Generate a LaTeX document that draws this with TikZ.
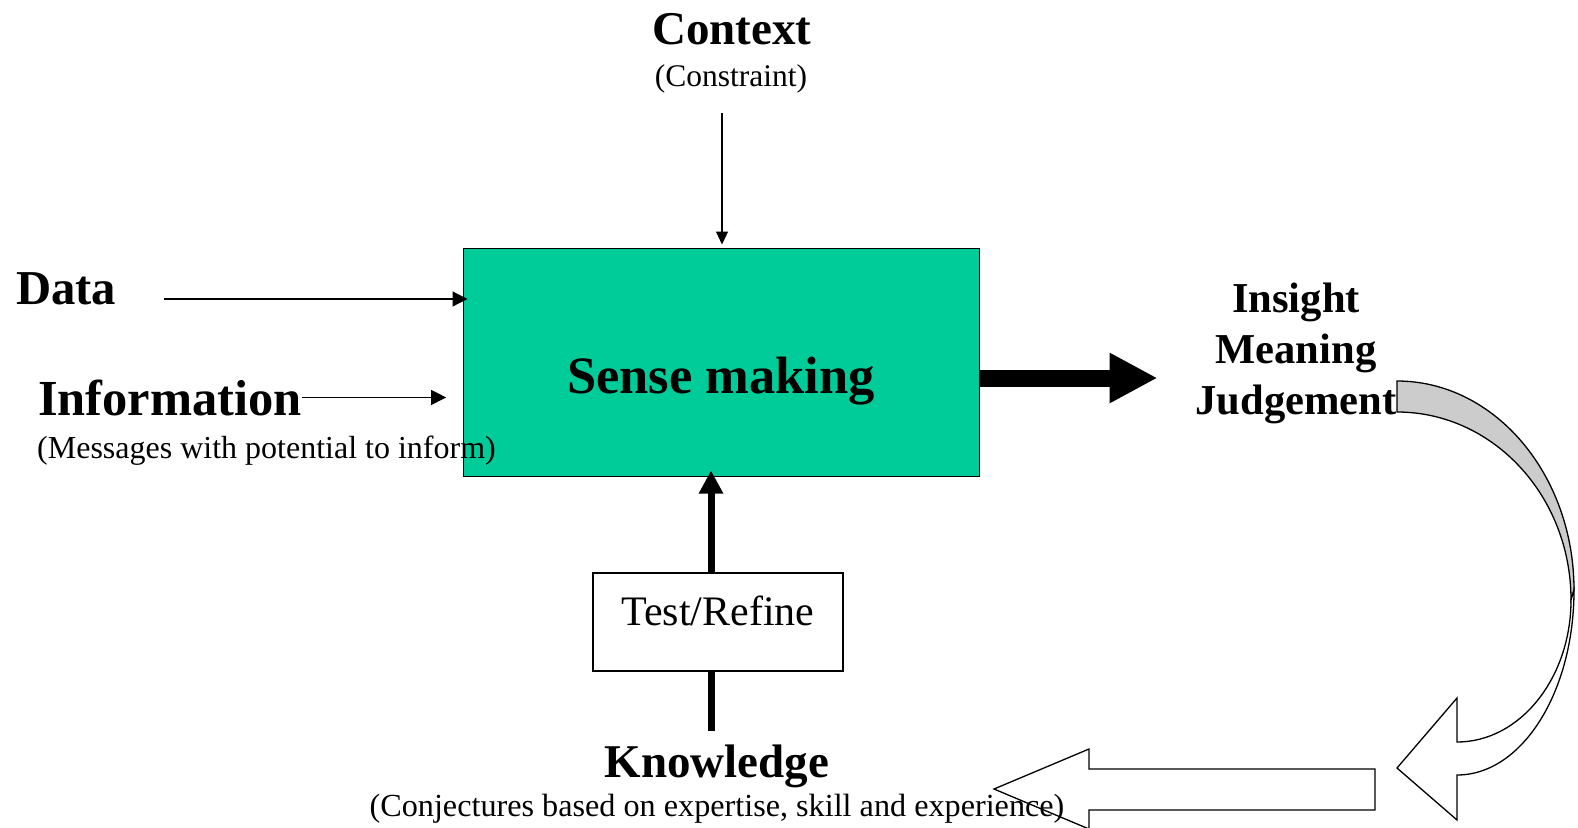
\documentclass[tikz,border=0pt]{standalone}
\usepackage{fontspec}
\setmainfont{Liberation Serif}
\usetikzlibrary{arrows.meta,positioning}
\definecolor{sensegreen}{RGB}{0,204,153}
\definecolor{turngray}{RGB}{204,204,204}

\tikzset{
  title/.style={font=\fontsize{47}{56}\selectfont\bfseries, inner sep=0pt, anchor=base},
  note/.style={font=\fontsize{31.5}{38}\selectfont, inner sep=0pt, anchor=base},
  feed/.style={line width=1.2pt, -{Triangle[length=15pt,width=15pt]}},
  push/.style={line width=7pt},
  outline/.style={line width=1.3pt, line join=miter},
}

\begin{document}
\begin{tikzpicture}[x=1pt,y=-1pt]
  \useasboundingbox (0,0) rectangle (1578,827);

  % central block and test box
  \node[draw, line width=1pt, fill=sensegreen, minimum width=516pt, inner sep=0pt,
        text height=145pt, text depth=83pt,
        font=\fontsize{52.5}{60}\selectfont\bfseries] (sense) at (721,362) {Sense making};
  \node[draw, line width=1.2pt, minimum width=250pt, inner sep=0pt,
        text height=52pt, text depth=46pt,
        font=\fontsize{42}{50}\selectfont] (test) at (718,622) {Test/Refine};

  % labels
  \node[title] (context) at (732,44) {Context};
  \node[note] (constraint) at (731,86) {(Constraint)};
  \node[title, anchor=base west, font=\fontsize{48.7}{56}\selectfont\bfseries] (data) at (16,304) {Data};
  \node[title, anchor=base west, font=\fontsize{50.5}{58}\selectfont\bfseries] (info) at (38,415) {Information};
  \node[note, anchor=base west, font=\fontsize{32}{38}\selectfont] (messages) at (37,458) {(Messages with potential to inform)};
  \node[title, anchor=north, align=center, font=\fontsize{42.6}{51}\selectfont\bfseries] (insight) at (1296,283) {Insight\\Meaning\\Judgement};
  \node[title] (knowledge) at (717,777) {Knowledge};
  \node[note, font=\fontsize{32.2}{38}\selectfont] (conjectures) at (717,816) {(Conjectures based on expertise, skill and experience)};

  % inputs
  \coordinate (ctxin) at (722,113);
  \draw[line width=1.2pt, -{Triangle[length=13pt,width=12pt]}, shorten >=3pt] (ctxin) -- (ctxin |- sense.north);
  \coordinate (datain) at (164,299);
  \draw[feed, shorten >=-5pt] (datain) -- (datain -| sense.west);
  \draw[feed] (info.east) -- ++(144,0);

  % output
  \draw[line width=17pt, -{Triangle[length=48pt,width=47pt]}] ([yshift=-16pt]sense.east) -- ++(178,0);

  % knowledge feeding up
  \coordinate (knowtop) at (711,731);
  \draw[push] (knowtop) -- (knowtop |- test.south);
  \draw[push, -{Triangle[length=23pt,width=23pt]}, shorten >=-6pt] (knowtop |- test.north) -- (knowtop |- sense.south);

  % turning arrow
  \draw[outline, fill=turngray] (1397,381) .. controls (1495,381) and (1574,475) .. (1574,590)
    -- (1571,600) .. controls (1571,496) and (1493,412) .. (1397,412) -- cycle;
  \draw[outline, fill=white] (1574,590) .. controls (1574,692) and (1522,775) .. (1457,775)
    -- (1457,820) -- (1397,768) -- (1457,698) -- (1457,742)
    .. controls (1520,742) and (1571,678) .. (1571,600) -- cycle;

  % back arrow
  \draw[outline] (1375,769) -- (1375,810) -- (1089,810) -- (1089,829) -- (994,789)
    -- (1089,749) -- (1089,769) -- cycle;
\end{tikzpicture}
\end{document}
